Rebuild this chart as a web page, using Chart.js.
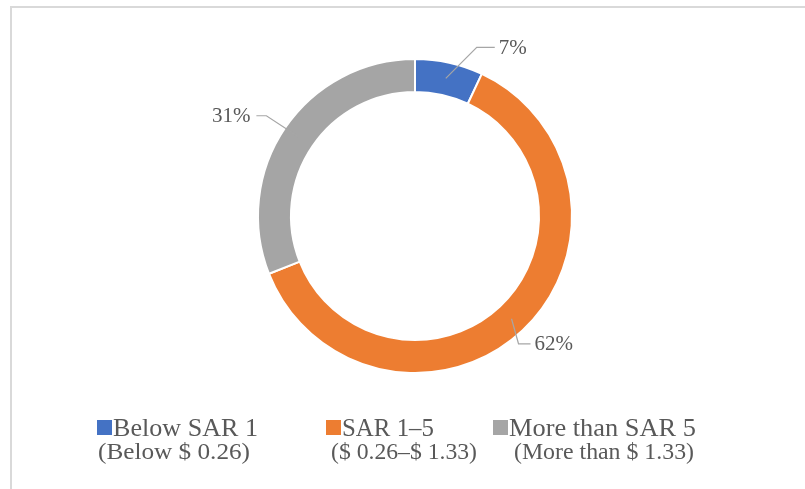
<!DOCTYPE html>
<html>
<head>
<meta charset="utf-8">
<script src="https://cdn.jsdelivr.net/npm/chart.js@4.4.0/dist/chart.umd.min.js"></script>
<style>
  html, body { margin: 0; padding: 0; background: #fff; }
  #wrap { position: relative; width: 805px; height: 489px; overflow: hidden; }
  #frame { position: absolute; left: 10px; top: 6px; right: -10px; bottom: -10px;
           border-left: 2px solid #d9d9d9; border-top: 2px solid #d9d9d9; }
  #wrap canvas { position: absolute; left: 0; top: 0; }
</style>
</head>
<body>
<div id="wrap">
  <div id="frame"></div>
  <canvas id="pieChart" width="805" height="489"></canvas>
</div>
<script>
// data
const categories = ['Below SAR 1', 'SAR 1\u20135', 'More than SAR 5'];
const subLabels = ['(Below $ 0.26)', '($ 0.26\u2013$ 1.33)', '(More than $ 1.33)'];
const shares = [7, 62, 31];
const colors = ['#4472C4', '#ED7D31', '#A5A5A5'];

// label callout shapes: elbow offset from anchor, then horizontal run
const callouts = [
    { dx: 31, dy: -31, run: 18 },
    { dx: 7, dy: 25, run: 12 },
    { dx: -32, dy: -21, run: -10 }
];
// legend placement (box x, text widths so the serif face fits the original)
const legendPos = [
    { box: 97, w1: 145, sub: 98, w2: 152 },
    { box: 326, w1: 92, sub: 331, w2: 146 },
    { box: 493, w1: 187, sub: 514, w2: 180 }
];

const FONT = '"Liberation Serif", "DejaVu Serif", serif';
const TEXT = '#595959';

// draw text stretched/condensed to a given width
function fitText(ctx, txt, x, y, width) {
    const natural = ctx.measureText(txt).width;
    ctx.save();
    ctx.translate(x, y);
    ctx.scale(width / natural, 1);
    ctx.fillText(txt, 0, 0);
    ctx.restore();
}

const calloutPlugin = {
    id: 'callouts',
    afterDraw(chart) {
        const ctx = chart.ctx;
        const meta = chart.getDatasetMeta(0);
        ctx.save();
        ctx.font = '21px ' + FONT;
        ctx.textBaseline = 'middle';
        meta.data.forEach((arc, i) => {
            const p = arc.getProps(['x', 'y', 'startAngle', 'endAngle', 'outerRadius'], true);
            const mid = (p.startAngle + p.endAngle) / 2;
            const r = p.outerRadius - 16;
            const ax = p.x + Math.cos(mid) * r;
            const ay = p.y + Math.sin(mid) * r;
            const c = callouts[i];
            const ex = ax + c.dx, ey = ay + c.dy;
            const hx = ex + c.run;
            ctx.strokeStyle = '#a6a6a6';
            ctx.lineWidth = 1.2;
            ctx.beginPath();
            ctx.moveTo(ax, ay);
            ctx.lineTo(ex, ey);
            ctx.lineTo(hx, ey);
            ctx.stroke();
            ctx.fillStyle = TEXT;
            const txt = shares[i] + '%';
            if (c.run < 0) {
                ctx.textAlign = 'right';
                ctx.fillText(txt, hx - 6, ey + 1);
            } else {
                ctx.textAlign = 'left';
                ctx.fillText(txt, hx + 4, ey + 1);
            }
        });

        // legend, two lines per entry
        ctx.textBaseline = 'alphabetic';
        ctx.textAlign = 'left';
        categories.forEach((name, i) => {
            const pos = legendPos[i];
            ctx.fillStyle = colors[i];
            ctx.fillRect(pos.box, 420, 15, 15);
            ctx.fillStyle = TEXT;
            ctx.font = '25px ' + FONT;
            fitText(ctx, name, pos.box + 16, 436, pos.w1);
            ctx.font = '24px ' + FONT;
            fitText(ctx, subLabels[i], pos.sub, 459, pos.w2);
        });
        ctx.restore();
    }
};

new Chart(document.getElementById('pieChart'), {
    type: 'doughnut',
    data: {
        labels: categories,
        datasets: [{
            data: shares,
            backgroundColor: colors,
            borderColor: '#ffffff',
            borderWidth: 2
        }]
    },
    options: {
        responsive: false,
        animation: false,
        cutout: '79%',
        layout: { padding: { left: 25, right: 0, top: 58, bottom: 115 } },
        plugins: {
            legend: { display: false },
            tooltip: { enabled: false }
        }
    },
    plugins: [calloutPlugin]
});
</script>
</body>
</html>
